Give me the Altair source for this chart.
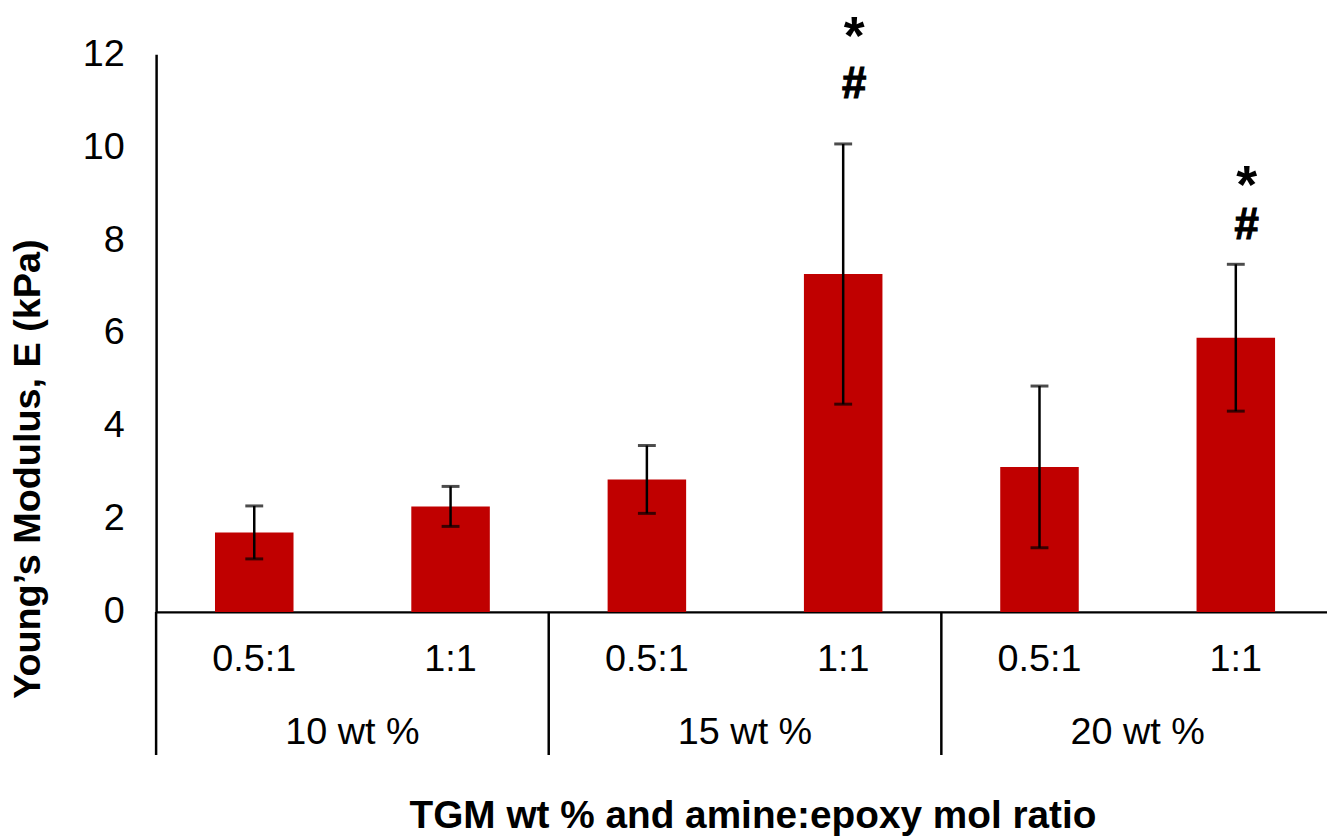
import altair as alt
import pandas as pd

# ---- data ----
groups = ["10 wt %", "10 wt %", "15 wt %", "15 wt %", "20 wt %", "20 wt %"]
ratios = ["0.5:1", "1:1", "0.5:1", "1:1", "0.5:1", "1:1"]
values = [1.71, 2.27, 2.85, 7.27, 3.12, 5.90]
errors = [0.57, 0.43, 0.73, 2.80, 1.74, 1.58]
star_y = [None, None, None, 12.35, None, 9.14]
hash_y = [None, None, None, 11.34, None, 8.30]
group_names = ["10 wt %", "15 wt %", "20 wt %"]

FONT = "Liberation Sans"
RED = "#C00000"

df = pd.DataFrame({
    "group": groups,
    "ratio": ratios,
    "value": values,
    "err": errors,
    "star": star_y,
    "hash": hash_y,
})
df["pos"] = [i + 0.5 for i in range(len(df))]
df["lo"] = df["value"] - df["err"]
df["hi"] = df["value"] + df["err"]

gdf = pd.DataFrame({"group": group_names})
gdf["pos"] = [2 * i + 1 for i in range(len(gdf))]

sep = pd.DataFrame({"pos": [2 * i for i in range(len(group_names) + 1)]})

# the reference crops the right end of the last group at the picture edge
xscale = alt.Scale(domain=[0, 6 * 1178 / 1185], nice=False, zero=False, padding=0)
yscale = alt.Scale(domain=[0, 12], nice=False, padding=0)

x_axis = alt.Axis(
    title="TGM wt % and amine:epoxy mol ratio",
    labels=False, ticks=False, grid=False,
    domainColor="black", domainWidth=2.5,
    titleFont=FONT, titleFontSize=39, titleFontWeight="bold", titleColor="black",
    titleX=600, titleY=205, titleBaseline="middle", titleAlign="center",
)
y_axis = alt.Axis(
    title="Young\u2019s Modulus, E (kPa)",
    values=[0, 2, 4, 6, 8, 10, 12],
    ticks=False, grid=False,
    domainColor="black", domainWidth=2.5,
    labelFont=FONT, labelFontSize=38, labelColor="black", labelPadding=32,
    titleFont=FONT, titleFontSize=38, titleFontWeight="bold", titleColor="black",
    titleX=-128, titleY=417, titleAngle=270, titleBaseline="middle", titleAlign="center",
)

base = alt.Chart(df)

bars = base.mark_bar(size=79, color=RED).encode(
    x=alt.X("pos:Q", scale=xscale, axis=x_axis),
    y=alt.Y("value:Q", scale=yscale, axis=y_axis),
)

err_line = base.mark_rule(color="black", strokeWidth=2.5).encode(
    x=alt.X("pos:Q", scale=xscale),
    y=alt.Y("lo:Q", scale=yscale),
    y2="hi:Q",
)
cap_hi = base.mark_tick(color="black", size=18, thickness=3, orient="horizontal").encode(
    x=alt.X("pos:Q", scale=xscale),
    y=alt.Y("hi:Q", scale=yscale),
)
cap_lo = base.mark_tick(color="black", size=18, thickness=3, orient="horizontal").encode(
    x=alt.X("pos:Q", scale=xscale),
    y=alt.Y("lo:Q", scale=yscale),
)

stars = base.transform_filter("isValid(datum.star)").mark_text(
    text="*", font=FONT, fontSize=54, fontWeight="bold", color="black",
    baseline="middle", dx=11,
).encode(
    x=alt.X("pos:Q", scale=xscale),
    y=alt.Y("star:Q", scale=yscale),
)
hashes = base.transform_filter("isValid(datum.hash)").mark_text(
    text="#", font=FONT, fontSize=44, fontWeight="bold", color="black",
    baseline="middle", dx=11, stroke="black", strokeWidth=1.2,
).encode(
    x=alt.X("pos:Q", scale=xscale),
    y=alt.Y("hash:Q", scale=yscale),
)

sub_labels = base.mark_text(
    font=FONT, fontSize=38, color="black", baseline="middle", align="center",
).encode(
    x=alt.X("pos:Q", scale=xscale),
    y=alt.value(609),
    text="ratio:N",
)

group_labels = alt.Chart(gdf).mark_text(
    font=FONT, fontSize=38, color="black", baseline="middle", align="center",
).encode(
    x=alt.X("pos:Q", scale=xscale),
    y=alt.value(683),
    text="group:N",
)

separators = alt.Chart(sep).mark_rule(color="black", strokeWidth=2.5).encode(
    x=alt.X("pos:Q", scale=xscale),
    y=alt.value(561),
    y2=alt.value(705),
)

chart = alt.layer(
    bars, err_line, cap_hi, cap_lo, stars, hashes,
    sub_labels, group_labels, separators,
).properties(
    width=1178,
    height=561,
    autosize=alt.AutoSizeParams(type="none"),
    padding={"left": 149, "top": 44, "right": 0, "bottom": 232},
).configure(
    font=FONT,
    background="white",
).configure_view(
    strokeWidth=0,
    stroke="transparent",
)

chart.save("out.html", embed_options={"renderer": "svg", "actions": False})
